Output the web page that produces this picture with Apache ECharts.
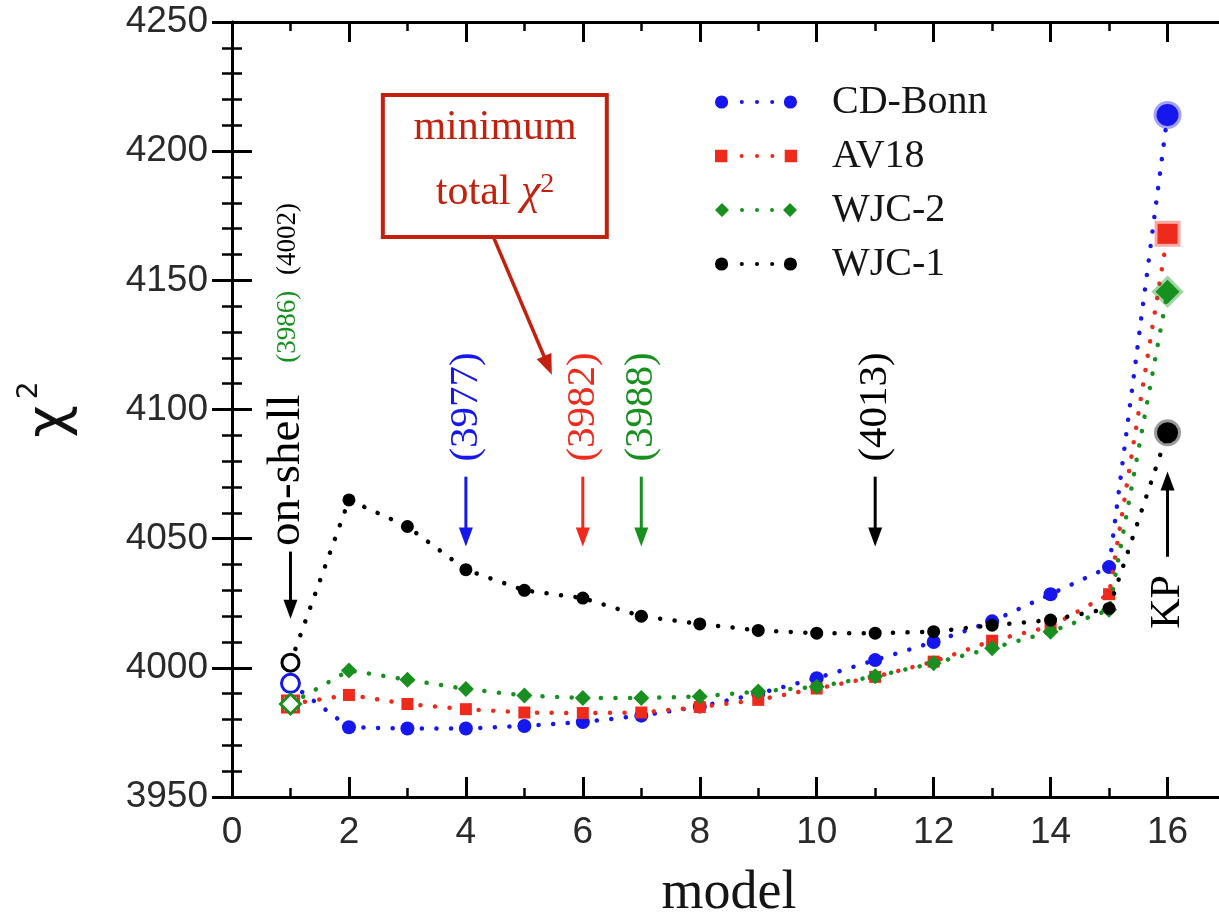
<!DOCTYPE html>
<html><head><meta charset="utf-8">
<script src="https://cdn.jsdelivr.net/npm/echarts@6/dist/echarts.min.js"></script>
<style>html,body{margin:0;padding:0;background:#fff}#c{width:1219px;height:922px}</style>
</head><body><div id="c"></div>
<script>
// ---------- data ----------
const models = [1, 2, 3, 4, 5, 6, 7, 8, 9, 10, 11, 12, 13, 14, 15, 16];
const cdBonn = [3994, 3977, 3976.5, 3976.5, 3977.5, 3979, 3981.5, 3985, 3990, 3996, 4003, 4010, 4018, 4028.5, 4039, 4214];
const av18   = [3986, 3989.5, 3986, 3984, 3982.7, 3982.5, 3982.7, 3984.8, 3987.6, 3992, 3996.5, 4002.4, 4010.5, 4016, 4028.5, 4168];
const wjc2   = [3986, 3999, 3995.4, 3991.8, 3989.3, 3988.3, 3988.3, 3988.9, 3990.8, 3992.7, 3996.7, 4001.8, 4007.6, 4014, 4022.5, 4145.6];
const wjc1   = [4002, 4065, 4054.7, 4038, 4030, 4027, 4020, 4017, 4014.5, 4013.4, 4013.4, 4014, 4016.5, 4018.5, 4023, 4091];
const seriesNames = ['CD-Bonn', 'AV18', 'WJC-2', 'WJC-1'];
const seriesValues = [cdBonn, av18, wjc2, wjc1];
const seriesColors = ['#1616ee', '#ee2a1c', '#17901f', '#000000'];
const seriesFades = ['rgba(22,22,238,0.4)', 'rgba(238,42,28,0.4)', 'rgba(23,144,31,0.4)', 'rgba(0,0,0,0.4)'];
const seriesSymbols = ['circle', 'rect', 'diamond', 'circle'];
const seriesSizes = [14, 12, 16, 13];
const xTickMax = 16;
const minModels = [4, 6, 7, 11];
const minLabels = ['(3977)', '(3982)', '(3988)', '(4013)'];
const onShellValues = ['(3986)', '(4002)'];
const onShellColors = ['#17901f', '#000000'];

// legend icons (style only)
const iconCircle = 'path://M0.5,7a6.5,6.5 0 1,0 13,0a6.5,6.5 0 1,0 -13,0Z M25,7a2,2 0 1,0 4,0a2,2 0 1,0 -4,0Z M40,7a2,2 0 1,0 4,0a2,2 0 1,0 -4,0Z M55,7a2,2 0 1,0 4,0a2,2 0 1,0 -4,0Z M68.5,7a6.5,6.5 0 1,0 13,0a6.5,6.5 0 1,0 -13,0Z';
const iconRect = 'path://M1,1L13,1L13,13L1,13Z M25,7a2,2 0 1,0 4,0a2,2 0 1,0 -4,0Z M40,7a2,2 0 1,0 4,0a2,2 0 1,0 -4,0Z M55,7a2,2 0 1,0 4,0a2,2 0 1,0 -4,0Z M69,1L81,1L81,13L69,13Z';
const iconDiamond = 'path://M7,0L14,7L7,14L0,7Z M25,7a2,2 0 1,0 4,0a2,2 0 1,0 -4,0Z M40,7a2,2 0 1,0 4,0a2,2 0 1,0 -4,0Z M55,7a2,2 0 1,0 4,0a2,2 0 1,0 -4,0Z M75,0L82,7L75,14L68,7Z';
const legendIcons = [iconCircle, iconRect, iconDiamond, iconCircle];

const chart = echarts.init(document.getElementById('c'), null, {renderer: 'canvas'});

function buildData(vals, k) {
  return vals.map((v, i) => {
    const d = {value: [models[i], v]};
    if (i === 0) {
      d.itemStyle = {color: '#ffffff', borderColor: seriesColors[k], borderWidth: 3};
      d.symbolSize = seriesSizes[k] + 4;
    } else if (i === vals.length - 1) {
      d.itemStyle = {color: seriesColors[k], borderColor: seriesFades[k], borderWidth: 6};
      d.symbolSize = seriesSizes[k] + 8;
    }
    return d;
  });
}

const series = seriesNames.map((name, k) => ({
  type: 'line',
  name: name,
  data: buildData(seriesValues[k], k),
  symbol: seriesSymbols[k],
  symbolSize: seriesSizes[k],
  showAllSymbol: true,
  itemStyle: {color: seriesColors[k]},
  lineStyle: {color: seriesColors[k], width: 4.5, type: [0.1, 14.5], cap: 'round'},
  emphasis: {disabled: true},
  animation: false,
  z: 3 + k
}));

const axisLabelFont = {fontFamily: 'Liberation Sans', fontSize: 37, color: '#2a2a2a'};
const plain = v => String(v);

const option = {
  backgroundColor: '#ffffff',
  animation: false,
  grid: {left: 232, right: -7, top: 22, bottom: 125, outerBoundsMode: 'none', containLabel: false},
  legend: {
    data: seriesNames.map((n, k) => ({name: n, icon: legendIcons[k]})),
    orient: 'vertical',
    left: 710, top: 76,
    itemWidth: 82, itemHeight: 14,
    itemGap: 12,
    textStyle: {fontFamily: 'Liberation Serif', fontSize: 40, color: '#151515', padding: [0, 0, 0, 30], lineHeight: 42},
    selectedMode: false
  },
  xAxis: [{
    type: 'value', min: 0, max: 17, interval: 2,
    name: 'model', nameLocation: 'middle', nameGap: 70,
    nameTextStyle: {fontFamily: 'Liberation Serif', fontSize: 54, color: '#151515'},
    axisLine: {lineStyle: {color: '#000', width: 3}},
    axisTick: {inside: true, length: 20, lineStyle: {color: '#000', width: 3}},
    minorTick: {show: true, splitNumber: 2, length: 9, lineStyle: {color: '#000', width: 2.5}},
    axisLabel: Object.assign({margin: 17, showMaxLabel: false,
      formatter: v => (v <= xTickMax ? String(v) : '')}, axisLabelFont),
    splitLine: {show: false}
  }, {
    type: 'value', min: 0, max: 17, interval: 2, position: 'top',
    axisLine: {show: true, lineStyle: {color: '#000', width: 3}},
    axisTick: {inside: true, length: 20, lineStyle: {color: '#000', width: 3}},
    minorTick: {show: true, splitNumber: 2, length: 9, lineStyle: {color: '#000', width: 2.5}},
    axisLabel: {show: false}, splitLine: {show: false}
  }],
  yAxis: [{
    type: 'value', min: 3950, max: 4250, interval: 50,
    name: '{c|χ}{s|2}', nameLocation: 'middle', nameGap: 148, nameRotate: 90,
    nameTextStyle: {rich: {
      c: {fontFamily: 'DejaVu Sans', fontSize: 56, color: '#111'},
      s: {fontFamily: 'DejaVu Sans', fontSize: 28, color: '#111', verticalAlign: 'top', padding: [0, 0, 40, 6]}
    }},
    axisLine: {lineStyle: {color: '#000', width: 3}},
    axisTick: {inside: true, length: 20, lineStyle: {color: '#000', width: 3}},
    minorTick: {show: true, splitNumber: 5, length: 10, lineStyle: {color: '#000', width: 2.5}},
    axisLabel: Object.assign({margin: 24, formatter: plain}, axisLabelFont),
    splitLine: {show: false}
  }, {
    type: 'value', min: 3950, max: 4250, interval: 50, position: 'right',
    axisLine: {show: true, lineStyle: {color: '#000', width: 3}},
    axisTick: {inside: true, length: 20, lineStyle: {color: '#000', width: 3}},
    minorTick: {show: true, splitNumber: 5, length: 10, lineStyle: {color: '#000', width: 2.5}},
    axisLabel: {show: false}, splitLine: {show: false}
  }],
  series: series
};
chart.setOption(option);

// ---------- annotations positioned through the axes ----------
const P = (x, y) => chart.convertToPixel({xAxisIndex: 0, yAxisIndex: 0}, [x, y]);
const g = [];
const serif = 'Liberation Serif';

function vText(x, y, text, color, size) {
  g.push({type: 'text', x: x, y: y, rotation: Math.PI / 2, z: 50,
    style: {text: text, fill: color, font: size + 'px "' + serif + '"', textAlign: 'center', textVerticalAlign: 'middle'}});
}
function arrow(x, y1, y2, color) { // tip at y2
  const dir = y2 > y1 ? 1 : -1;
  g.push({type: 'line', z: 50, shape: {x1: x, y1: y1, x2: x, y2: y2 - dir * 14}, style: {stroke: color, lineWidth: 3}});
  g.push({type: 'polygon', z: 50, shape: {points: [[x - 7, y2 - dir * 19], [x + 7, y2 - dir * 19], [x, y2]]}, style: {fill: color}});
}

// minima markers
minModels.forEach((m, k) => {
  const t = P(m, 4101);
  vText(t[0], t[1], minLabels[k], seriesColors[k], 41);
  const a1 = P(m, 4074), a2 = P(m, 4047);
  arrow(a1[0], a1[1], a2[1], seriesColors[k]);
});

// on-shell
{
  const t = P(1, 4076.5);
  vText(t[0] - 4, t[1], 'on-shell', '#000', 47);
  const a1 = P(1, 4045), a2 = P(1, 4019);
  arrow(a1[0], a1[1], a2[1], '#000');
  const s1 = P(1, 4132), s2 = P(1, 4166);
  vText(s1[0] - 3, s1[1], onShellValues[0], onShellColors[0], 27);
  vText(s2[0] - 3, s2[1], onShellValues[1], onShellColors[1], 27);
}

// KP
{
  const t = P(16, 4025.5);
  vText(t[0], t[1], 'KP', '#000', 42);
  const a1 = P(16, 4043), a2 = P(16, 4076);
  arrow(a1[0], a1[1], a2[1], '#000');
}

// minimum total chi^2 box
{
  const red = '#c4200e';
  const b1 = P(2.58, 4221.7), b2 = P(6.41, 4166.8);
  g.push({type: 'rect', z: 50, shape: {x: b1[0], y: b1[1], width: b2[0] - b1[0], height: b2[1] - b1[1]},
    style: {fill: '#fff', stroke: red, lineWidth: 4}});
  const l1 = P(4.5, 4209), l2 = P(4.5, 4184);
  g.push({type: 'text', z: 51, x: l1[0], y: l1[1], style: {text: 'minimum', fill: red, font: '42px "' + serif + '"', textAlign: 'center', textVerticalAlign: 'middle'}});
  g.push({type: 'text', z: 51, x: l2[0], y: l2[1], style: {
    text: '{n|total }{c|χ}{s|2}', textAlign: 'center', textVerticalAlign: 'middle',
    rich: {
      n: {fill: red, fontFamily: serif, fontSize: 42},
      c: {fill: red, fontFamily: serif, fontSize: 44, fontStyle: 'italic'},
      s: {fill: red, fontFamily: serif, fontSize: 28, verticalAlign: 'top'}
    }}});
  const a1 = P(4.47, 4166.8), a2 = P(5.47, 4113.5);
  const dx = a2[0] - a1[0], dy = a2[1] - a1[1], L = Math.hypot(dx, dy), ux = dx / L, uy = dy / L;
  g.push({type: 'line', z: 50, shape: {x1: a1[0], y1: a1[1], x2: a2[0] - ux * 14, y2: a2[1] - uy * 14}, style: {stroke: red, lineWidth: 3.5}});
  g.push({type: 'polygon', z: 50, shape: {points: [
    [a2[0] - ux * 20 - uy * 8, a2[1] - uy * 20 + ux * 8],
    [a2[0] - ux * 20 + uy * 8, a2[1] - uy * 20 - ux * 8],
    [a2[0], a2[1]]]}, style: {fill: red}});
}

chart.setOption({graphic: {elements: g}});
</script></body></html>
